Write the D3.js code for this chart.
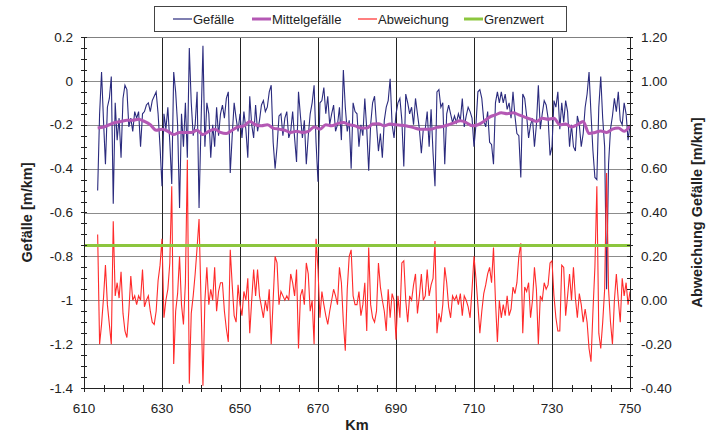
<!DOCTYPE html>
<html><head><meta charset="utf-8">
<script src="https://cdn.jsdelivr.net/npm/d3@7"></script>
<style>body{margin:0;background:#fff}svg{display:block}text{font-family:"Liberation Sans",Arial,sans-serif;fill:#222}</style>
</head><body><svg id="c" width="707" height="435"></svg>
<script>
// ---- data ----
const kmStart = 613.5, kmStep = 0.5;
const gefaelle = [
 -0.50,-0.15,0.04,-0.18,-0.38,-0.12,-0.08,0.02,-0.56,-0.10,-0.27,-0.17,-0.35,
 -0.08,-0.02,-0.04,-0.21,-0.17,-0.23,-0.14,-0.17,-0.14,-0.30,-0.15,-0.14,-0.11,-0.10,-0.14,-0.09,-0.07,-0.05,-0.15,-0.30,
 -0.48,-0.15,-0.22,-0.12,-0.28,-0.47,0.04,-0.05,-0.20,-0.58,-0.15,-0.30,-0.10,-0.35,0.15,-0.10,-0.25,-0.20,-0.05,-0.58,
 -0.20,0.16,-0.30,-0.10,-0.15,-0.35,-0.20,-0.30,-0.12,-0.25,-0.15,-0.11,-0.17,-0.08,-0.05,-0.42,-0.25,-0.10,-0.17,-0.23,
 -0.15,-0.26,-0.14,-0.22,-0.35,-0.07,-0.20,-0.26,-0.11,-0.23,-0.18,-0.11,-0.09,-0.14,-0.12,-0.05,-0.02,-0.28,-0.40,-0.30,
 -0.16,-0.15,-0.25,-0.17,-0.14,-0.26,-0.23,-0.14,-0.26,-0.37,-0.05,-0.16,-0.26,-0.18,-0.38,-0.25,-0.15,-0.10,-0.02,-0.28,
 -0.46,-0.10,-0.09,-0.03,-0.15,-0.07,-0.20,-0.15,-0.11,-0.23,-0.20,-0.12,-0.27,0.05,-0.12,-0.23,-0.18,-0.40,-0.10,-0.14,
 -0.15,-0.30,-0.20,-0.25,-0.08,-0.22,-0.41,-0.20,-0.10,-0.07,-0.20,-0.32,-0.24,-0.35,-0.18,-0.12,-0.09,0.01,-0.20,-0.26,
 -0.15,-0.10,-0.08,-0.18,-0.39,-0.06,-0.10,-0.15,-0.12,-0.20,-0.08,-0.15,-0.22,-0.33,-0.22,-0.22,-0.14,-0.30,-0.13,-0.33,
 -0.48,-0.05,-0.04,-0.12,-0.10,-0.38,-0.15,-0.11,-0.15,-0.19,-0.16,-0.19,-0.15,-0.18,-0.08,-0.21,-0.16,-0.12,-0.14,-0.17,
 -0.30,-0.20,-0.05,-0.04,-0.08,-0.18,-0.21,-0.14,-0.28,-0.29,-0.38,-0.10,-0.05,-0.10,-0.05,-0.10,-0.06,-0.13,-0.10,-0.17,
 -0.05,-0.16,-0.24,-0.25,-0.44,-0.06,-0.08,-0.16,-0.26,-0.20,-0.17,-0.30,-0.20,-0.02,-0.22,-0.15,-0.09,-0.11,-0.17,-0.34,
 -0.30,-0.09,-0.12,-0.05,-0.22,-0.10,-0.19,-0.09,-0.14,-0.30,-0.20,-0.30,-0.32,-0.16,-0.20,-0.30,-0.24,-0.12,-0.06,0.04,
 -0.15,-0.32,-0.44,-0.45,-0.12,0.02,-0.17,-0.30,-0.95,-0.38,-0.22,-0.16,-0.08,-0.14,-0.05,-0.18,-0.20,-0.10,-0.15,-0.27,-0.20
];
// Abweichung in right-axis units
const abweichung = [
 0.30,-0.20,-0.11,0.01,0.16,-0.02,-0.11,-0.20,0.36,0.02,0.08,0.01,0.13,
 -0.06,-0.14,-0.17,-0.05,0.11,0.00,0.02,-0.02,0.02,0.00,0.14,-0.03,0.00,0.02,-0.05,-0.10,-0.11,-0.05,0.09,0.16,
 0.28,-0.08,0.00,0.05,0.17,0.52,-0.29,-0.05,0.03,0.20,-0.02,-0.11,0.08,0.64,-0.38,-0.06,0.02,0.12,0.24,0.37,
 0.00,-0.39,0.00,0.15,-0.02,0.05,0.00,0.15,-0.05,0.04,0.08,0.08,-0.05,-0.13,-0.19,0.23,0.07,-0.07,-0.10,0.07,
 -0.02,-0.07,0.04,0.00,0.10,-0.15,0.00,0.14,0.02,0.14,0.02,-0.03,-0.08,0.00,-0.05,0.05,-0.20,0.00,0.20,0.17,
 -0.02,0.04,0.02,0.00,0.02,0.00,0.12,0.08,0.02,0.14,-0.22,0.02,0.05,-0.02,0.17,0.12,-0.05,0.00,-0.20,0.28,
 0.14,-0.08,0.04,-0.02,-0.07,-0.11,-0.05,0.00,0.05,0.02,-0.02,0.15,0.08,-0.10,-0.23,0.05,0.20,0.23,0.02,-0.02,
 -0.02,0.04,-0.07,-0.02,0.08,-0.14,0.24,-0.02,-0.08,-0.10,-0.05,0.17,0.06,0.00,-0.05,-0.14,0.05,-0.08,0.03,0.00,
 -0.18,0.02,-0.08,0.17,0.18,0.00,-0.10,0.02,0.00,0.07,0.12,-0.06,0.02,0.12,0.00,0.02,0.14,0.02,0.07,0.10,
 0.27,-0.15,-0.06,-0.10,-0.02,0.15,0.08,-0.03,-0.08,0.02,0.00,0.02,-0.02,0.03,-0.07,0.02,0.00,-0.03,-0.08,0.05,
 0.20,0.10,-0.02,-0.15,-0.05,0.03,0.07,0.12,0.15,0.08,0.24,0.00,-0.19,0.00,-0.08,-0.02,-0.07,0.02,-0.07,-0.04,
 0.06,0.03,0.08,0.20,0.26,-0.15,0.06,0.04,0.08,-0.08,0.00,0.15,0.05,-0.20,0.02,0.00,0.08,0.05,0.07,0.17,
 0.18,0.02,-0.08,-0.14,-0.14,0.16,0.15,-0.07,0.02,0.12,0.00,0.15,0.01,-0.08,0.03,-0.02,-0.10,-0.04,-0.10,-0.22,
 -0.28,-0.05,0.15,0.52,-0.15,-0.22,-0.10,0.05,0.58,0.05,-0.10,-0.20,0.00,0.12,0.00,-0.10,0.10,0.02,0.08,-0.02,0.04
];
const mittelStart = 613.5, mittelStep = 1.5;
const mittelgefaelle = [
 -0.215,-0.21,-0.20,-0.19,-0.185,-0.18,-0.18,-0.175,-0.185,-0.20,
 -0.225,-0.22,-0.23,-0.245,-0.235,-0.235,-0.235,-0.225,-0.245,-0.23,
 -0.22,-0.235,-0.24,-0.225,-0.21,-0.205,-0.185,-0.20,-0.205,-0.20,
 -0.215,-0.22,-0.225,-0.235,-0.23,-0.235,-0.23,-0.21,-0.22,-0.20,
 -0.205,-0.195,-0.19,-0.20,-0.205,-0.215,-0.215,-0.197,-0.195,-0.205,
 -0.197,-0.20,-0.202,-0.207,-0.213,-0.22,-0.22,-0.22,-0.212,-0.208,
 -0.20,-0.19,-0.182,-0.19,-0.205,-0.20,-0.185,-0.165,-0.155,-0.145,
 -0.15,-0.145,-0.155,-0.165,-0.175,-0.185,-0.17,-0.175,-0.17,-0.20,
 -0.197,-0.21,-0.20,-0.185,-0.24,-0.235,-0.228,-0.235,-0.22,-0.215,
 -0.23,-0.205
];
const grenzwert = 0.25; // right axis
const xTicks = [610,630,650,670,690,710,730,750];
const leftTicks = [0.2,0,-0.2,-0.4,-0.6,-0.8,-1,-1.2,-1.4];
const leftLabels = ["0.2","0","-0.2","-0.4","-0.6","-0.8","-1","-1.2","-1.4"];
const rightTicks = [1.2,1.0,0.8,0.6,0.4,0.2,0,-0.2,-0.4];
const rightLabels = ["1.20","1.00","0.80","0.60","0.40","0.20","0.00","-0.20","-0.40"];
const seriesNames = ["Gefälle","Mittelgefälle","Abweichung","Grenzwert"];
const colors = {g:"#2b2b7e", m:"#b458b4", a:"#ff2b2b", z:"#8cc63e"};

// ---- layout ----
const L=84, R=630, T=37, B=388;
const svg = d3.select("#c");
const x = d3.scaleLinear([610,750],[L,R]);
const yL = d3.scaleLinear([-1.4,0.2],[B,T]);
const yR = d3.scaleLinear([-0.4,1.2],[B,T]);

svg.append("defs").append("clipPath").attr("id","clip")
  .append("rect").attr("x",L).attr("y",T).attr("width",R-L).attr("height",B-T);

// grid
svg.append("g").selectAll("line").data(leftTicks.filter(d=>d<0.19&&d>-1.39)).join("line")
  .attr("x1",L).attr("x2",R).attr("y1",d=>Math.round(yL(d))+0.5).attr("y2",d=>Math.round(yL(d))+0.5)
  .attr("stroke","#8c8c8c").attr("stroke-width",1);
svg.append("g").selectAll("line").data(xTicks.slice(1,-1)).join("line")
  .attr("y1",T).attr("y2",B).attr("x1",d=>Math.round(x(d))+0.5).attr("x2",d=>Math.round(x(d))+0.5)
  .attr("stroke","#222").attr("stroke-width",1);

// series
const plot = svg.append("g").attr("clip-path","url(#clip)");
const gData = gefaelle.map((v,i)=>[kmStart+i*kmStep,v]);
const aData = abweichung.map((v,i)=>[kmStart+i*kmStep,v]);
const mData = mittelgefaelle.map((v,i)=>[mittelStart+i*mittelStep,v]);
plot.append("path").datum(gData).attr("fill","none").attr("stroke",colors.g).attr("stroke-width",1.1)
  .attr("d",d3.line().x(d=>x(d[0])).y(d=>yL(d[1])));
plot.append("path").datum(mData).attr("fill","none").attr("stroke",colors.m).attr("stroke-width",3).attr("stroke-linejoin","round")
  .attr("d",d3.line().curve(d3.curveMonotoneX).x(d=>x(d[0])).y(d=>yL(d[1])));
plot.append("path").datum(aData).attr("fill","none").attr("stroke",colors.a).attr("stroke-width",1.1)
  .attr("d",d3.line().x(d=>x(d[0])).y(d=>yR(d[1])));
plot.append("line").attr("x1",L).attr("x2",R).attr("y1",yR(grenzwert)).attr("y2",yR(grenzwert))
  .attr("stroke",colors.z).attr("stroke-width",3);

// frame & axes
const ax = svg.append("g").attr("stroke","#222").attr("stroke-width",1);
ax.append("line").attr("x1",L).attr("x2",R).attr("y1",T+0.5).attr("y2",T+0.5).attr("stroke","#808080");
ax.append("line").attr("x1",L+0.5).attr("x2",L+0.5).attr("y1",T).attr("y2",B);
ax.append("line").attr("x1",R+0.5).attr("x2",R+0.5).attr("y1",T).attr("y2",B);
ax.append("line").attr("x1",L).attr("x2",R+1).attr("y1",B+0.5).attr("y2",B+0.5);
const yMinor = d3.range(0,33).map(i=>-1.4+i*0.05);
const xMinor = d3.range(0,29).map(i=>610+i*5);
ax.selectAll(".ly").data(yMinor).join("line").attr("x1",L-3).attr("x2",L+3)
  .attr("y1",d=>Math.round(yL(d))+0.5).attr("y2",d=>Math.round(yL(d))+0.5);
ax.selectAll(".ry").data(yMinor).join("line").attr("x1",R-3).attr("x2",R+3)
  .attr("y1",d=>Math.round(yL(d))+0.5).attr("y2",d=>Math.round(yL(d))+0.5);
ax.selectAll(".bx").data(xMinor).join("line").attr("y1",B-3).attr("y2",B+4)
  .attr("x1",d=>Math.round(x(d))+0.5).attr("x2",d=>Math.round(x(d))+0.5);

// tick labels
const fs = 13.5;
svg.append("g").selectAll("text").data(leftTicks).join("text")
  .attr("x",73).attr("y",d=>yL(d)).attr("dy","0.35em").attr("text-anchor","end")
  .attr("font-size",fs).text((d,i)=>leftLabels[i]);
svg.append("g").selectAll("text").data(rightTicks).join("text")
  .attr("x",641).attr("y",d=>yR(d)).attr("dy","0.35em").attr("text-anchor","start")
  .attr("font-size",fs).text((d,i)=>rightLabels[i]);
svg.append("g").selectAll("text").data(xTicks).join("text")
  .attr("x",d=>x(d)).attr("y",413).attr("text-anchor","middle")
  .attr("font-size",fs).text(d=>d);

// titles
svg.append("text").attr("x",357).attr("y",430).attr("text-anchor","middle")
  .attr("font-size",14.5).attr("font-weight","bold").text("Km");
svg.append("text").attr("transform",`translate(32,${(T+B)/2}) rotate(-90)`).attr("text-anchor","middle")
  .attr("font-size",14.5).attr("font-weight","bold").text("Gefälle [m/km]");
svg.append("text").attr("transform",`translate(702,${(T+B)/2}) rotate(-90)`).attr("text-anchor","middle")
  .attr("font-size",14.5).attr("font-weight","bold").text("Abweichung Gefälle [m/km]");

// legend
const lg = svg.append("g");
lg.append("rect").attr("x",154.5).attr("y",6.5).attr("width",412).attr("height",25)
  .attr("fill","#fff").attr("stroke","#444");
const items = [
  {name:seriesNames[0], c:colors.g, w:1.2, x0:173},
  {name:seriesNames[1], c:colors.m, w:3, x0:252},
  {name:seriesNames[2], c:colors.a, w:1.2, x0:358},
  {name:seriesNames[3], c:colors.z, w:3, x0:464}
];
items.forEach(it=>{
  lg.append("line").attr("x1",it.x0).attr("x2",it.x0+19).attr("y1",19).attr("y2",19)
    .attr("stroke",it.c).attr("stroke-width",it.w);
  lg.append("text").attr("x",it.x0+20).attr("y",23.5).attr("font-size",13).text(it.name);
});
</script></body></html>
